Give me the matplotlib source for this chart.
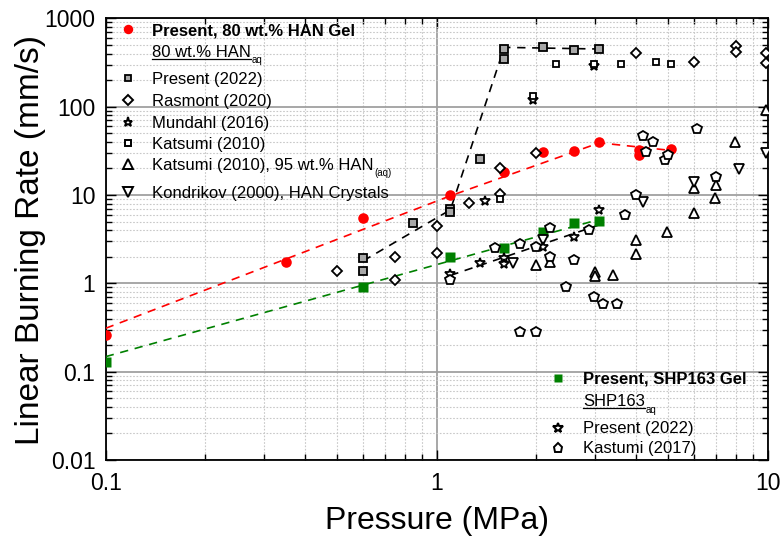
import matplotlib
matplotlib.use('Agg')
import matplotlib.pyplot as plt
from matplotlib.lines import Line2D
from matplotlib.ticker import FixedLocator, FixedFormatter, LogLocator, NullFormatter

plt.rcParams['font.family'] = ['Liberation Sans', 'DejaVu Sans']

# ---------- data (pressure MPa, burning rate mm/s) ----------
# 80 wt.% HAN gel (present work)
han_gel_p = [0.1, 0.35, 0.6, 1.1, 1.6, 2.1, 2.59, 3.1, 4.08, 4.08, 5.1]
han_gel_r = [0.26, 1.73, 5.45, 9.9, 18.4, 30.5, 31.5, 39.5, 32, 28.5, 33]
han_gel_fit_p = [0.1, 1.1, 3.1, 5.1]
han_gel_fit_r = [0.31, 9.8, 39, 32]

# 80 wt.% HAN(aq)
present_han_p = [0.6, 0.6, 0.85, 1.1, 1.1, 1.35, 1.6, 1.6, 2.1, 2.59, 3.1]
present_han_r = [1.92, 1.39, 4.85, 7.0, 6.4, 25.4, 447, 344, 478, 438, 447]
present_han_fit_p = [0.6, 1.1, 1.6, 3.1]
present_han_fit_r = [1.8, 6.8, 470, 450]

rasmont_p = [0.5, 0.75, 0.75, 1.0, 1.0, 1.25, 1.55, 1.55, 2.0, 4.0, 6.0, 8.0, 8.0, 9.9, 9.9]
rasmont_r = [1.39, 1.09, 2.0, 2.22, 4.49, 8.05, 20, 10.4, 30, 403, 324, 486, 420, 403, 310]

mundahl_p = [1.4, 1.95, 2.98]
mundahl_r = [8.55, 119, 290]

katsumi_p = [1.55, 1.95, 2.29, 2.98, 3.6, 4.6, 5.09]
katsumi_r = [9.0, 133, 302, 302, 302, 324, 302]

katsumi95_p = [2.0, 2.2, 3.0, 3.0, 3.4, 4.0, 4.0, 4.95, 6.0, 6.0, 6.94, 7.0, 7.95, 9.9]
katsumi95_r = [1.6, 1.75, 1.34, 1.2, 1.23, 3.09, 2.15, 3.8, 6.2, 12, 9.3, 13, 40, 92]

kondrikov_p = [1.7, 2.1, 4.2, 6.0, 8.2, 9.9]
kondrikov_r = [1.69, 3.09, 8.3, 14, 19.7, 30]

# SHP163 gel (present work)
shp_gel_p = [0.1, 0.6, 1.1, 1.6, 2.1, 2.59, 3.1]
shp_gel_r = [0.13, 0.91, 1.97, 2.49, 3.78, 4.78, 5.1]
shp_gel_fit_p = [0.1, 3.1]
shp_gel_fit_r = [0.148, 5.3]

# SHP163(aq)
shp_present_p = [1.1, 1.35, 1.6, 1.6, 2.1, 2.59, 3.1]
shp_present_r = [1.29, 1.7, 1.92, 1.67, 2.6, 3.32, 6.8]
shp_present_fit_p = [1.1, 3.1]
shp_present_fit_r = [1.23, 4.6]

kastumi_p = [1.1, 1.5, 1.79, 1.79, 2.0, 2.0, 2.2, 2.2, 2.45, 2.59, 2.89, 2.98,
             3.18, 3.5, 3.7, 4.0, 4.2, 4.3, 4.5, 4.9, 5.0, 6.1, 7.0]
kastumi_r = [1.10, 2.49, 2.8, 0.28, 0.28, 2.6, 4.2, 2.0, 0.92, 1.85, 4.0, 0.70,
             0.59, 0.59, 6.0, 10.1, 46.5, 30.6, 40, 25, 28.3, 55.5, 16]

x_ticks = [0.1, 1, 10]
x_ticklabels = ['0.1', '1', '10']
y_ticks = [0.01, 0.1, 1, 10, 100, 1000]
y_ticklabels = ['0.01', '0.1', '1', '10', '100', '1000']

# ---------- figure ----------
W, H = 783, 541
fig = plt.figure(figsize=(W / 100, H / 100), dpi=100)
L, R, T, B = 105.7, 767.7, 18.4, 460.0
ax = fig.add_axes([L / W, 1 - B / H, (R - L) / W, (B - T) / H])


def ax_xy(px, py):
    return (px - L) / (R - L), (B - py) / (B - T)


ax.set_xscale('log')
ax.set_yscale('log')
ax.set_xlim(0.1, 10)
ax.set_ylim(0.01, 1000)

GRAY = '#a8a8a8'
GREEN = '#008000'
RED = '#ff0000'
open_kw = dict(ls='none', mfc='white', mec='black', mew=1.3, zorder=5)

# fit / guide lines
ax.plot(han_gel_fit_p, han_gel_fit_r, color=RED, ls='--', dashes=(5, 4), lw=1.2, zorder=3)
ax.plot(present_han_fit_p, present_han_fit_r, color='black', ls='--', dashes=(5, 4), lw=1.2, zorder=3)
ax.plot(shp_gel_fit_p, shp_gel_fit_r, color=GREEN, ls='--', dashes=(5, 4), lw=1.2, zorder=3)
ax.plot(shp_present_fit_p, shp_present_fit_r, color='black', ls='--', dashes=(5, 4), lw=1.2, zorder=3)

# points
ax.plot(present_han_p, present_han_r, 's', ms=6.0, mfc=GRAY, mec='black', mew=1.3, zorder=4)
ax.plot(rasmont_p, rasmont_r, 'D', ms=5.0, **open_kw)
ax.plot(mundahl_p, mundahl_r, '*', ms=7.4, **open_kw)
ax.plot(katsumi_p, katsumi_r, 's', ms=5.0, **open_kw)
ax.plot(katsumi95_p, katsumi95_r, '^', ms=7.3, **open_kw)
ax.plot(kondrikov_p, kondrikov_r, 'v', ms=7.3, **open_kw)
ax.plot(han_gel_p, han_gel_r, 'o', ms=7.6, color=RED, mec='none', zorder=4)
ax.plot(shp_gel_p, shp_gel_r, 's', ms=7.0, color=GREEN, mec='none', zorder=4)
ax.plot(shp_present_p, shp_present_r, '*', ms=7.4, **open_kw)
ax.plot(kastumi_p, kastumi_r, 'p', ms=7.5, **open_kw)

# axes styling
ax.set_axisbelow(True)
ax.grid(which='major', color='#a0a0a0', lw=1.3, ls='-')
ax.grid(which='minor', color='#c8c8c8', lw=0.8, ls=(0, (1.5, 1.5)))
ax.xaxis.set_major_locator(FixedLocator(x_ticks))
ax.xaxis.set_major_formatter(FixedFormatter(x_ticklabels))
ax.yaxis.set_major_locator(FixedLocator(y_ticks))
ax.yaxis.set_major_formatter(FixedFormatter(y_ticklabels))
ax.xaxis.set_minor_locator(LogLocator(base=10, subs=range(2, 10)))
ax.yaxis.set_minor_locator(LogLocator(base=10, subs=range(2, 10)))
ax.xaxis.set_minor_formatter(NullFormatter())
ax.yaxis.set_minor_formatter(NullFormatter())
ax.tick_params(which='both', direction='in', top=True, right=True, width=1.0)
ax.tick_params(which='major', length=7, labelsize=16.5)
ax.tick_params(which='minor', length=4)
ax.tick_params(axis='x', which='major', pad=8.5)
ax.tick_params(axis='y', which='major', pad=7.5)
for s in ax.spines.values():
    s.set_linewidth(1.3)

ax.set_xlabel('Pressure (MPa)', fontsize=23)
ax.xaxis.set_label_coords(0.5, (B - 521) / (B - T))
ax.xaxis.label.set_va('center')
ax.set_ylabel('Linear Burning Rate (mm/s)', fontsize=24)
ax.yaxis.set_label_coords((31 - L) / (R - L), (B - 240) / (B - T))
ax.yaxis.label.set_va('center')

# ---------- hand-made legends ----------
FS = 12
underlined = []


def legend_marker(px, py, marker, **kw):
    x, y = ax_xy(px, py)
    ax.plot([x], [y], marker, transform=ax.transAxes, clip_on=False, zorder=6, **kw)


def legend_text(px, pbase, text, sub=None, bold=False, underline=False):
    x, y = ax_xy(px, pbase)
    t = ax.text(x, y, text, transform=ax.transAxes, fontsize=FS, va='baseline', ha='left',
                fontweight='bold' if bold else 'normal', zorder=6)
    if sub:
        ax.annotate(sub, xy=(1, 0), xycoords=t, xytext=(0.6, -2.2), textcoords='offset points',
                    fontsize=7, va='baseline', ha='left')
    if underline:
        underlined.append(t)


# 80 wt.% HAN block
mx1, tx1 = 128.3, 152.3
legend_marker(mx1, 29.3, 'o', ms=6.8, color=RED, mec='none')
legend_text(tx1, 35, 'Present, 80 wt.% HAN Gel', bold=True)
legend_text(tx1, 57.3, '80 wt.% HAN', sub='aq', underline=True)
legend_marker(mx1, 78.3, 's', ms=4.7, mfc=GRAY, mec='black', mew=1.3)
legend_text(tx1, 84, 'Present (2022)')
legend_marker(mx1, 100, 'D', ms=4.6, mfc='white', mec='black', mew=1.4)
legend_text(tx1, 106, 'Rasmont (2020)')
legend_marker(mx1, 121.7, '*', ms=6.8, mfc='white', mec='black', mew=1.4)
legend_text(tx1, 128.3, 'Mundahl (2016)')
legend_marker(mx1, 143.3, 's', ms=4.5, mfc='white', mec='black', mew=1.4)
legend_text(tx1, 149, 'Katsumi (2010)')
legend_marker(mx1, 164.3, '^', ms=6.6, mfc='white', mec='black', mew=1.4)
legend_text(tx1, 170, 'Katsumi (2010), 95 wt.% HAN', sub='(aq)')
legend_marker(mx1, 192.3, 'v', ms=6.6, mfc='white', mec='black', mew=1.4)
legend_text(tx1, 197.7, 'Kondrikov (2000), HAN Crystals')

# SHP163 block
mx2, tx2 = 558.3, 583.3
legend_marker(mx2, 378.3, 's', ms=6.2, color=GREEN, mec='none')
legend_text(tx2, 384, 'Present, SHP163 Gel', bold=True)
legend_text(tx2, 406.5, 'SHP163', sub='aq', underline=True)
legend_marker(mx2, 428.3, '*', ms=7.0, mfc='white', mec='black', mew=1.5)
legend_text(tx2, 433.5, 'Present (2022)')
legend_marker(mx2, 448.3, 'p', ms=6.6, mfc='white', mec='black', mew=1.4)
legend_text(tx2, 453.5, 'Kastumi (2017)')

# underline the sub-headings
fig.canvas.draw()
renderer = fig.canvas.get_renderer()
inv = fig.transFigure.inverted()
for t in underlined:
    bb = t.get_window_extent(renderer)
    (x0, y0), (x1, _) = inv.transform([(bb.x0, bb.y0 + 1.5), (bb.x1, bb.y0 + 1.5)])
    fig.add_artist(Line2D([x0, x1], [y0, y0], transform=fig.transFigure, color='black', lw=0.9))

fig.savefig('out.png', dpi=100)
